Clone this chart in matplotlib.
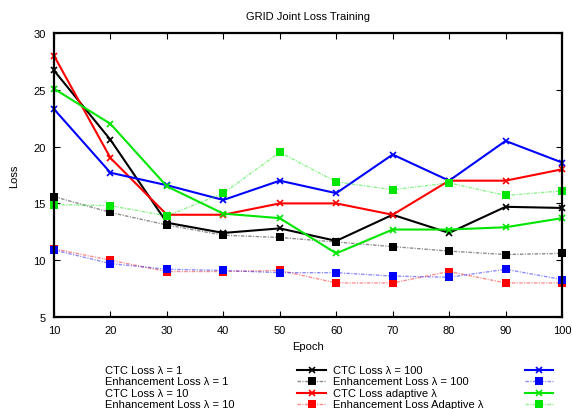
import matplotlib
matplotlib.use("Agg")
import matplotlib.pyplot as plt
from matplotlib.lines import Line2D

plt.rcParams['font.family'] = ['Liberation Sans', 'DejaVu Sans']
plt.rcParams['font.size'] = 8

epochs = [10, 20, 30, 40, 50, 60, 70, 80, 90, 100]

ctc_l1 = [26.7, 20.6, 13.3, 12.4, 12.8, 11.7, 14.0, 12.4, 14.7, 14.6]
enh_l1 = [15.6, 14.2, 13.1, 12.2, 12.0, 11.6, 11.2, 10.8, 10.5, 10.6]
ctc_l10 = [28.0, 19.0, 14.0, 14.0, 15.0, 15.0, 14.0, 17.0, 17.0, 18.0]
enh_l10 = [11.0, 10.0, 9.0, 9.0, 9.1, 8.0, 8.0, 9.0, 8.0, 8.0]
ctc_l100 = [23.3, 17.7, 16.6, 15.3, 17.0, 15.9, 19.3, 17.0, 20.5, 18.6]
enh_l100 = [10.9, 9.7, 9.2, 9.1, 8.9, 8.9, 8.6, 8.5, 9.2, 8.3]
ctc_adapt = [25.1, 22.0, 16.5, 14.1, 13.7, 10.6, 12.7, 12.7, 12.9, 13.7]
enh_adapt = [14.9, 14.8, 13.9, 15.9, 19.5, 16.9, 16.2, 16.8, 15.7, 16.1]

labels = ["CTC Loss \u03bb = 1", "Enhancement Loss \u03bb = 1",
          "CTC Loss \u03bb = 10", "Enhancement Loss \u03bb = 10",
          "CTC Loss \u03bb = 100", "Enhancement Loss \u03bb = 100",
          "CTC Loss adaptive \u03bb", "Enhancement Loss Adaptive \u03bb"]

black = (0, 0, 0)
red = (1, 0, 0)
blue = (0, 0, 1)
green = (0, 0.9, 0)

series = [
    (ctc_l1, black, 'ctc'), (enh_l1, black, 'enh'),
    (ctc_l10, red, 'ctc'), (enh_l10, red, 'enh'),
    (ctc_l100, blue, 'ctc'), (enh_l100, blue, 'enh'),
    (ctc_adapt, green, 'ctc'), (enh_adapt, green, 'enh'),
]

enh_dash = (0, (2.5, 1, 0.8, 1))


def style(color, kind):
    if kind == 'ctc':
        return dict(color=color, lw=1.5, ls='-', marker='x', ms=5, mew=1.2)
    return dict(color=color + (0.45,), lw=1.0, ls=enh_dash, marker='s', ms=6,
                mfc=color, mec=color, mew=0)


fig = plt.figure(figsize=(5.72, 4.10), dpi=100)
ax = fig.add_axes([54 / 572, 1 - 318 / 410, 508 / 572, 284 / 410])

for vals, color, kind in series:
    ax.plot(epochs, vals, clip_on=False, **style(color, kind))

ax.set_xlim(10, 100)
ax.set_ylim(5, 30)
ax.set_xticks(epochs)
ax.set_yticks([5, 10, 15, 20, 25, 30])
ax.tick_params(direction='in', top=True, right=True, length=4, width=0.8,
               labelsize=8, pad=6)
for s in ax.spines.values():
    s.set_linewidth(1.6)

ax.set_title("GRID Joint Loss Training", fontsize=8, pad=10)
ax.set_xlabel("Epoch", fontsize=8, labelpad=4)
ax.set_ylabel("Loss", fontsize=8, labelpad=10)

# gnuplot-style key: text first, then sample, two columns
W, H = 572.0, 410.0
text_x = [105, 333]
samp_x = [(297, 326), (525, 553)]
row_y = [371, 382.3, 393.7, 404.7]
for i, (lab, (vals, color, kind)) in enumerate(zip(labels, series)):
    col, row = divmod(i, 4)
    y = 1 - row_y[row] / H
    fig.text(text_x[col] / W, y, lab, fontsize=8, ha='left', va='center')
    x0, x1 = samp_x[col]
    ln = Line2D([x0 / W, (x0 + x1) / 2 / W, x1 / W], [y, y, y],
                transform=fig.transFigure, markevery=[1], **style(color, kind))
    fig.add_artist(ln)

fig.savefig("out.png", dpi=100)
